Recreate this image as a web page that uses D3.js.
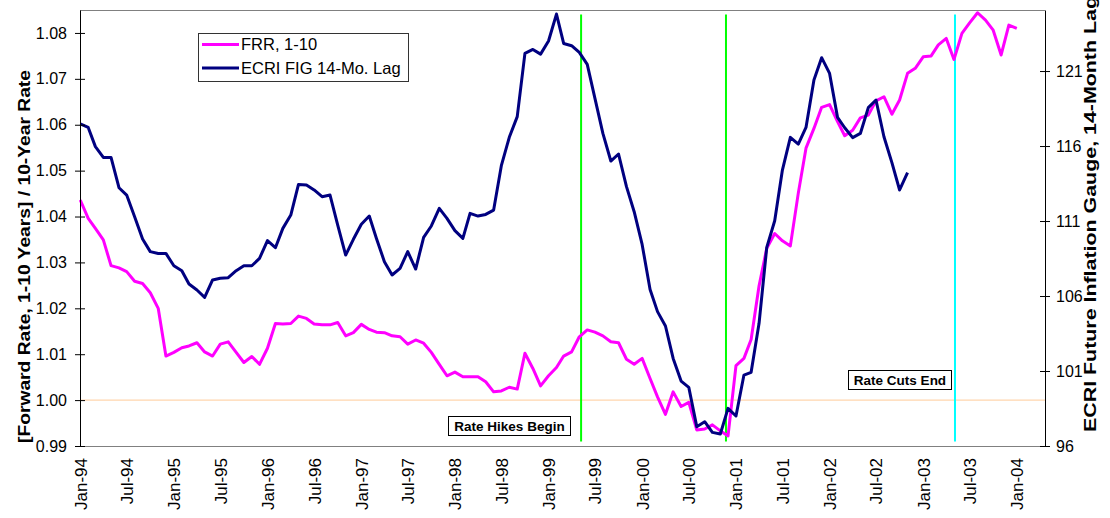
<!DOCTYPE html>
<html>
<head>
<meta charset="utf-8">
<script src="https://cdn.jsdelivr.net/npm/d3@7"></script>
<style>
  body { margin: 0; background: #fff; }
  svg { display: block; font-family: Arial, "Liberation Sans", sans-serif; }
</style>
</head>
<body>
<svg></svg>
<script>

// monthly data, first point Jan-94
var startMonth = new Date(1994, 0, 1);

// FRR, 1-10  (Jan-94 .. Jan-04)
var frr = [
  1.0436,1.0396,1.0374,1.0349,1.0293,1.0288,1.0280,1.0259,1.0254,1.0234,1.0200,1.0096,
  1.0104,1.0114,1.0118,1.0125,1.0105,1.0096,1.0122,1.0127,1.0104,1.0082,1.0095,1.0078,
  1.0113,1.0167,1.0166,1.0167,1.0183,1.0178,1.0166,1.0164,1.0164,1.0169,1.0140,1.0147,
  1.0165,1.0154,1.0148,1.0147,1.0140,1.0138,1.0122,1.0131,1.0124,1.0104,1.0078,1.0053,
  1.0061,1.0051,1.0051,1.0051,1.0040,1.0018,1.0020,1.0028,1.0024,1.0102,1.0069,1.0031,
  1.0053,1.0071,1.0096,1.0105,1.0138,1.0153,1.0148,1.0140,1.0127,1.0125,1.0089,1.0078,
  1.0091,1.0047,1.0007,0.9969,1.0018,0.9986,0.9995,0.9935,0.9937,0.9946,0.9933,0.9922,
  1.0075,1.0091,1.0132,1.0249,1.0331,1.0363,1.0347,1.0336,1.0451,1.0549,1.0592,1.0638,
  1.0644,1.0607,1.0576,1.0588,1.0615,1.0621,1.0652,1.0661,1.0623,1.0654,1.0712,1.0723,
  1.0748,1.0750,1.0774,1.0788,1.0742,1.0799,1.0822,1.0844,1.0828,1.0806,1.0752,1.0817,
  1.0810
];

// ECRI FIG 14-Mo. Lag  (Jan-94 .. Nov-02)
var ecri = [
  117.47,117.24,115.96,115.24,115.24,113.22,112.73,111.29,109.80,108.96,108.84,108.84,
  108.02,107.69,106.80,106.40,105.91,107.07,107.18,107.22,107.69,108.02,108.02,108.51,
  109.69,109.22,110.51,111.40,113.44,113.40,113.07,112.62,112.73,110.73,108.73,109.78,
  110.78,111.33,109.84,108.29,107.40,107.84,108.96,107.80,109.91,110.67,111.84,111.18,
  110.36,109.84,111.51,111.33,111.44,111.73,114.69,116.58,117.96,122.18,122.44,122.13,
  123.00,124.80,122.84,122.69,122.24,121.44,119.18,116.84,115.00,115.47,113.29,111.62,
  109.44,106.44,104.96,104.00,101.84,100.33,99.91,97.29,97.62,96.91,96.80,98.51,
  98.00,100.73,100.91,104.18,109.24,111.02,114.40,116.58,116.13,117.24,120.40,121.89,
  120.84,117.91,117.22,116.56,116.84,118.56,119.07,116.62,114.89,113.07,114.22
];

// policy markers
var eventDates = [new Date(1999, 4, 8), new Date(2000, 10, 23), new Date(2003, 4, 5)];
var eventColors = ["#00ff00", "#00ff00", "#00ffff"];
var eventRange = [0.991, 1.084];

var leftTicks = [0.99,1.00,1.01,1.02,1.03,1.04,1.05,1.06,1.07,1.08];
var rightTicks = [96,101,106,111,116,121];
var legendLabels = ["FRR, 1-10", "ECRI FIG 14-Mo. Lag"];
var leftTitle = "[Forward Rate, 1-10 Years] / 10-Year Rate";
var rightTitle = "ECRI Future Inflation Gauge, 14-Month Lag";

var width = 1110;
var height = 518;
var plotL = 80, plotR = 1045, plotT = 10, plotB = 446;

var svg = d3.select("svg")
            .attr("width", width)
            .attr("height", height);

var x = d3.scaleTime()
          .domain([new Date(1993, 11, 31), new Date(2004, 3, 20)])
          .range([plotL, plotR]);

var yL = d3.scaleLinear().domain([0.99, 1.085]).range([plotB, plotT]);
var yR = d3.scaleLinear().domain([96, 125.07]).range([plotB, plotT]);

var month = function(i) { return d3.timeMonth.offset(startMonth, i); };

// plot frame (grey top/bottom)
svg.append("line")
   .attr("x1", plotL).attr("x2", plotR).attr("y1", plotT + 0.5).attr("y2", plotT + 0.5)
   .attr("stroke", "#808080");
svg.append("line")
   .attr("x1", plotL).attr("x2", plotR).attr("y1", plotB + 0.5).attr("y2", plotB + 0.5)
   .attr("stroke", "#808080");

// 1.00 reference
svg.append("line")
   .attr("x1", plotL).attr("x2", plotR)
   .attr("y1", yL(1.00)).attr("y2", yL(1.00))
   .attr("stroke", "#ffcc99")
   .attr("stroke-width", 1);

// event lines
svg.selectAll(".event")
   .data(eventDates)
   .enter()
   .append("line")
   .attr("class", "event")
   .attr("x1", function(d) { return x(d); })
   .attr("x2", function(d) { return x(d); })
   .attr("y1", yL(eventRange[1]))
   .attr("y2", yL(eventRange[0]))
   .attr("stroke", function(d, i) { return eventColors[i]; })
   .attr("stroke-width", 2);

// series
var lineL = d3.line()
  .x(function(d, i) { return x(month(i)); })
  .y(function(d) { return yL(d); });
var lineR = d3.line()
  .x(function(d, i) { return x(month(i)); })
  .y(function(d) { return yR(d); });

svg.append("path")
   .datum(frr)
   .attr("d", lineL)
   .attr("fill", "none")
   .attr("stroke", "#ff00ff")
   .attr("stroke-width", 3)
   .attr("stroke-linejoin", "round");

svg.append("path")
   .datum(ecri)
   .attr("d", lineR)
   .attr("fill", "none")
   .attr("stroke", "#000080")
   .attr("stroke-width", 3)
   .attr("stroke-linejoin", "round");

// left axis
var axL = svg.append("g")
  .attr("transform", "translate(" + plotL + ",0)")
  .call(d3.axisLeft(yL).tickValues(leftTicks).tickFormat(d3.format(".2f"))
          .tickSizeInner(5).tickSizeOuter(0).tickPadding(8));
axL.select(".domain").attr("stroke", "#000");
axL.selectAll(".tick line").clone().attr("x2", 5);
axL.selectAll("text").attr("font-size", 16).attr("fill", "#000")
   .attr("font-family", "Arial, 'Liberation Sans', sans-serif");

// right axis
var axR = svg.append("g")
  .attr("transform", "translate(" + plotR + ",0)")
  .call(d3.axisRight(yR).tickValues(rightTicks)
          .tickSizeInner(5).tickSizeOuter(0).tickPadding(6));
axR.select(".domain").attr("stroke", "#000");
axR.selectAll(".tick line").clone().attr("x2", -5);
axR.selectAll("text").attr("font-size", 16).attr("fill", "#000")
   .attr("font-family", "Arial, 'Liberation Sans', sans-serif");

// bottom labels
var axB = svg.append("g")
  .attr("transform", "translate(0," + plotB + ")")
  .call(d3.axisBottom(x).ticks(d3.timeMonth.every(6)).tickFormat(d3.timeFormat("%b-%y"))
          .tickSize(0).tickPadding(0));
axB.select(".domain").remove();
axB.selectAll("text")
   .attr("font-size", 17)
   .attr("fill", "#000")
   .attr("font-family", "Arial, 'Liberation Sans', sans-serif")
   .attr("text-anchor", "end")
   .attr("dy", "0.35em")
   .attr("transform", "translate(0,12) rotate(-90)");

// axis titles
svg.append("text")
   .attr("transform", "translate(30,443) rotate(-90)")
   .attr("font-size", 17)
   .attr("font-weight", "bold")
   .attr("textLength", 373)
   .attr("lengthAdjust", "spacingAndGlyphs")
   .text(leftTitle);

svg.append("text")
   .attr("transform", "translate(1096,432) rotate(-90)")
   .attr("font-size", 17)
   .attr("font-weight", "bold")
   .attr("textLength", 436)
   .attr("lengthAdjust", "spacingAndGlyphs")
   .text(rightTitle);

// legend
var legend = svg.append("g");
legend.append("rect")
   .attr("x", 198.5).attr("y", 33.5).attr("width", 210).attr("height", 48)
   .attr("fill", "#fff").attr("stroke", "#333");
var legColors = ["#ff00ff", "#000080"];
legend.selectAll(".lg")
   .data(legendLabels)
   .enter()
   .append("g")
   .attr("class", "lg")
   .attr("transform", function(d, i) { return "translate(202," + (44.5 + i * 23.5) + ")"; })
   .each(function(d, i) {
     var g = d3.select(this);
     g.append("line").attr("x1", 0).attr("x2", 37)
      .attr("stroke", legColors[i]).attr("stroke-width", 3);
     g.append("text").attr("x", 39).attr("dy", "0.36em")
      .attr("font-size", 16.5).text(d);
   });

// text boxes
var notes = [
  {text: "Rate Hikes Begin", x: 448.5, y: 416.5, w: 122, h: 19},
  {text: "Rate Cuts End", x: 848.5, y: 370.5, w: 103, h: 19}
];
var nb = svg.selectAll(".note")
   .data(notes)
   .enter()
   .append("g")
   .attr("class", "note");
nb.append("rect")
  .attr("x", function(d) { return d.x; })
  .attr("y", function(d) { return d.y; })
  .attr("width", function(d) { return d.w; })
  .attr("height", function(d) { return d.h; })
  .attr("fill", "#fff")
  .attr("stroke", "#000");
nb.append("text")
  .attr("x", function(d) { return d.x + d.w / 2; })
  .attr("y", function(d) { return d.y + d.h / 2; })
  .attr("dy", "0.36em")
  .attr("text-anchor", "middle")
  .attr("font-size", 13.5)
  .attr("font-weight", "bold")
  .text(function(d) { return d.text; });

</script>
</body>
</html>
